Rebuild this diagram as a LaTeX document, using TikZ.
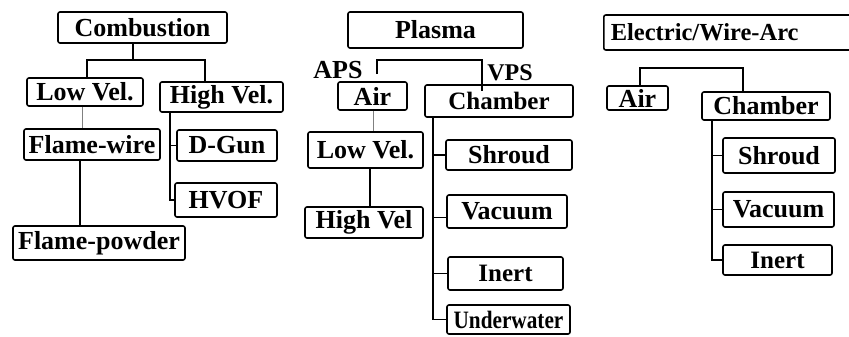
\documentclass[tikz,border=0pt]{standalone}
\usepackage{fontspec}
\setmainfont{Liberation Serif}
\begin{document}
\begin{tikzpicture}[x=1pt,y=-1pt,
  fs/.style={font=\bfseries\fontsize{#1}{#1}\selectfont},
  box/.style={draw, line width=1.6pt, rounded corners=2pt, inner sep=0pt, fs=26},
  lbl/.style={inner sep=0pt, fs=26},
  conn/.style={line width=1.3pt},
  faint/.style={line width=0.6pt, gray}]
\useasboundingbox (0,0) rectangle (849,337);
% ---------- Combustion ----------
\node[box, minimum width=169pt, minimum height=31pt] (comb) at (142.5,27.5) {Combustion};
\node[box, minimum width=116pt, minimum height=28pt] (lowc) at (85,92) {Low Vel.};
\node[box, minimum width=123pt, minimum height=30pt] (hic) at (221.5,97) {High Vel.};
\node[box, minimum width=136pt, minimum height=31pt] (fwire) at (92,144.5) {Flame-wire};
\node[box, minimum width=100pt, minimum height=31pt] (dgun) at (227,145.5) {D-Gun};
\node[box, minimum width=102pt, minimum height=34pt] (hvof) at (226,200) {HVOF};
\node[box, minimum width=172pt, minimum height=34pt] (fpow) at (99,243) {Flame-powder};
\coordinate (cj) at (133,60);
\coordinate (cjl) at (87,60);
\coordinate (cjr) at (205,60);
\draw[conn] (comb.south -| cj) -- (cj);
\draw[conn] (lowc.north -| cjl) -- (cjl) -- (cjr) -- (hic.north -| cjr);
\draw[faint] (lowc.south -| 82,0) -- (fwire.north -| 82,0);
\draw[conn] (fwire.south -| 80,0) -- (fpow.north -| 80,0);
\draw[conn] (hic.south -| 170,0) |- (hvof.west);
\draw[conn] (dgun.west -| 170,0) -- (dgun.west);
% ---------- Plasma ----------
\node[box, minimum width=175pt, minimum height=36pt] (plasma) at (435.5,30) {Plasma};
\node[lbl] (aps) at (338,70) {APS};
\node[lbl, fs=24] (vps) at (510,73) {VPS};
\node[box, minimum width=69pt, minimum height=28pt] (pair) at (372.5,96) {Air};
\node[box, fs=25, minimum width=148pt, minimum height=32pt] (pcham) at (499,101) {Chamber};
\node[box, minimum width=115pt, minimum height=36pt] (plow) at (365.5,150) {Low Vel.};
\node[box, minimum width=118pt, minimum height=31pt] (phigh) at (364,222.5) {High Vel};
\node[box, minimum width=126pt, minimum height=30pt] (pshroud) at (509,155) {Shroud};
\node[box, minimum width=120pt, minimum height=33pt] (pvac) at (507,211.5) {Vacuum};
\node[box, fs=25, minimum width=115pt, minimum height=33pt] (pinert) at (505.5,273.5) {Inert};
\node[box, fs=25, minimum width=123pt, minimum height=29pt] (punder) at (508.5,319.5) {\scalebox{0.85}[1]{Underwater}};
\coordinate (pjl) at (377,60);
\coordinate (pjr) at (482,60);
\draw[conn, shorten <=7pt] (pair.north -| pjl) -- (pjl) -- (pjr) -- ([yshift=-7pt]pcham.north -| pjr);
\draw[faint] (pair.south -| 373,0) -- (plow.north -| 373,0);
\draw[conn] (plow.south -| 370,0) -- (phigh.north -| 370,0);
\draw[conn] (pcham.south -| 433,0) |- (punder.west);
\draw[conn] (pshroud.west -| 433,0) -- (pshroud.west);
\draw[conn] ([yshift=-6pt]pvac.west -| 433,0) -- ([yshift=-6pt]pvac.west);
\draw[conn] (pinert.west -| 433,0) -- (pinert.west);
% ---------- Electric/Wire-Arc ----------
\node[box, fs=24.5, anchor=west, minimum height=35pt, text width=252pt, inner xsep=7pt, align=left] (elec) at (603,32.5) {Electric/Wire-Arc};
\node[box, minimum width=61pt, minimum height=24pt] (eair) at (637.5,98) {Air};
\node[box, minimum width=128pt, minimum height=28pt] (echam) at (766,106) {Chamber};
\node[box, minimum width=112pt, minimum height=35pt] (eshroud) at (779,155.5) {Shroud};
\node[box, minimum width=111pt, minimum height=35pt] (evac) at (778.5,209.5) {Vacuum};
\node[box, fs=25, minimum width=109pt, minimum height=30pt] (einert) at (777.5,260) {Inert};
\coordinate (ejl) at (640,68);
\coordinate (ejr) at (743,68);
\draw[conn] (eair.north -| ejl) -- (ejl) -- (ejr) -- (echam.north -| ejr);
\draw[conn] (echam.south -| 712,0) |- (einert.west);
\draw[conn] (eshroud.west -| 712,0) -- (eshroud.west);
\draw[conn] (evac.west -| 712,0) -- (evac.west);
\end{tikzpicture}
\end{document}
